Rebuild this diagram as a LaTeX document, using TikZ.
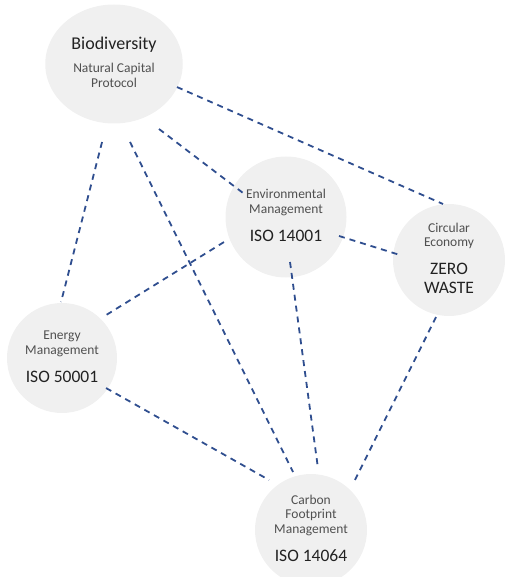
\documentclass[tikz,border=0pt]{standalone}
\usepackage{fontspec}
\setmainfont{Carlito}
\usetikzlibrary{shapes.geometric,calc}
\definecolor{bubblegray}{HTML}{F0F0F0}
\definecolor{linkblue}{HTML}{2F4E8F}
\definecolor{labelgray}{HTML}{505050}
\definecolor{titlegray}{HTML}{222222}

\begin{document}
\begin{tikzpicture}[
                x=1pt, y=-1pt,
                topic/.style={circle,fill=bubblegray,minimum size=112pt,inner sep=0pt,text=labelgray,
                  font=\fontsize{13.5}{14.5}\selectfont},
                link/.style={draw=linkblue,line width=1.8pt,dash pattern=on 6pt off 5pt},
            ]
            \clip (0,0) rectangle (505,577);

            % Define nodes
            \node[topic,ellipse,minimum width=137pt,minimum height=119pt] (bio) at (114,64)
              {\begin{tabular}{c} {\color{titlegray}\fontsize{18}{20}\selectfont Biodiversity} \\[9pt] Natural Capital \\ Protocol \end{tabular}};
            \node[topic,minimum size=121pt] (env) at (286,217)
              {\begin{tabular}{c} Environmental \\ Management \\[12pt] {\color{titlegray}\fontsize{17.5}{20}\selectfont ISO 14001} \end{tabular}};
            \node[topic] (circ) at (449,260)
              {\begin{tabular}{c} Circular \\ Economy \\[12pt] {\color{titlegray}\fontsize{17.5}{20}\selectfont ZERO} \\[3pt] {\color{titlegray}\fontsize{17.5}{20}\selectfont WASTE} \end{tabular}};
            \node[topic,minimum size=110pt] (nrg) at (62,358)
              {\begin{tabular}{c} Energy \\ Management \\[12pt] {\color{titlegray}\fontsize{17.5}{20}\selectfont ISO 50001} \end{tabular}};
            \node[topic] (cfp) at (311,530)
              {\begin{tabular}{c} Carbon \\ Footprint \\ Management \\[12pt] {\color{titlegray}\fontsize{17.5}{20}\selectfont ISO 14064} \end{tabular}};

            % Draw connections
            \draw[link] ($(bio)+(-20.1:67.1pt)$) -- ($(circ)+(96.1:56.3pt)$);
            \draw[link] ($(bio)+(-55.3:79.1pt)$) -- ($(env)+(150.8:49.2pt)$);
            \draw[link] ($(bio)+(-98.7:78.9pt)$) -- ($(nrg)+(91:56pt)$);
            \draw[link] ($(bio)+(-78.4:79.6pt)$) -- ($(cfp)+(107.2:60.7pt)$);
            \draw[link] ($(env)+(-19.7:56.3pt)$) -- ($(circ)+(174.2:49.3pt)$);
            \draw[link] ($(env)+(-158:66.9pt)$) -- ($(nrg)+(45:58pt)$);
            \draw[link] ($(env)+(-84.9:45.2pt)$) -- ($(cfp)+(83.6:62.4pt)$);
            \draw[link] ($(nrg)+(-34.3:53.3pt)$) -- ($(cfp)+(130:65.3pt)$);
            \draw[link] ($(circ)+(-102.8:58.5pt)$) -- ($(cfp)+(48.7:66.6pt)$);

            \end{tikzpicture}
\end{document}
